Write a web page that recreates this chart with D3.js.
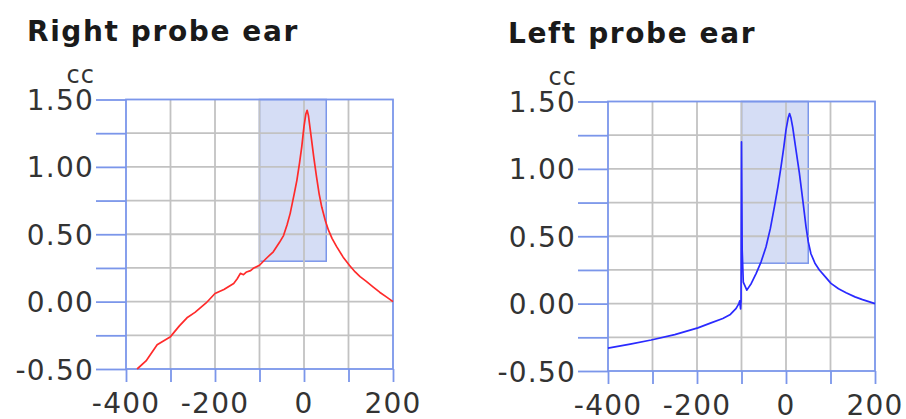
<!DOCTYPE html>
<html>
<head>
<meta charset="utf-8">
<script src="https://cdn.jsdelivr.net/npm/d3@7"></script>
<style>
  body { margin: 0; background: #fff; }
  svg { display: block; font-family: "DejaVu Sans", Verdana, sans-serif; }
</style>
</head>
<body>
<script>
// tympanogram readings, pressure (daPa) vs compliance (cc)
const xTicks = [-400, -300, -200, -100, 0, 100, 200];
const xLabels = [-400, -200, 0, 200];
const yTicks = [-0.5, -0.25, 0, 0.25, 0.5, 0.75, 1.0, 1.25, 1.5];
const yLabels = [-0.5, 0, 0.5, 1.0, 1.5];
const normalBox = { x0: -100, x1: 50, y0: 0.3, y1: 1.5 };

const rightEar = [
  [-375, -0.5], [-355, -0.44], [-330, -0.32], [-315, -0.29], [-300, -0.26],
  [-280, -0.18], [-263, -0.12], [-245, -0.08], [-220, -0.01], [-200, 0.06],
  [-180, 0.09], [-158, 0.135], [-150, 0.17], [-143, 0.21], [-136, 0.2],
  [-129, 0.22], [-120, 0.23], [-114, 0.247], [-100, 0.27], [-85, 0.32],
  [-69, 0.37], [-55, 0.44], [-46, 0.49], [-38, 0.57], [-31, 0.655],
  [-22, 0.8], [-16, 0.9], [-10, 1.03], [-5, 1.15], [0, 1.3], [4, 1.39],
  [7, 1.42], [10, 1.38], [17, 1.2], [22, 1.07], [28, 0.93], [34, 0.8],
  [40, 0.7], [48, 0.6], [55, 0.53], [63, 0.47], [73, 0.41], [88, 0.33],
  [102, 0.27], [115, 0.22], [126, 0.185], [140, 0.15], [155, 0.11],
  [170, 0.07], [185, 0.035], [200, 0.0]
];

const leftEar = [
  [-400, -0.33], [-350, -0.3], [-303, -0.27], [-250, -0.23], [-198, -0.18],
  [-170, -0.145], [-142, -0.11], [-125, -0.08], [-112, -0.035], [-106, 0.0],
  [-104, 0.02], [-102, -0.04], [-101, 0.02], [-100, 1.2], [-98.5, 0.4],
  [-96, 0.16], [-88, 0.1], [-78, 0.15], [-67, 0.225], [-56, 0.31],
  [-45, 0.42], [-35, 0.56], [-26, 0.72], [-18, 0.87], [-11, 1.02],
  [-5, 1.16], [0, 1.29], [5, 1.38], [8, 1.41], [11, 1.38], [15, 1.31],
  [22, 1.15], [30, 0.97], [38, 0.76], [45, 0.57], [50, 0.46], [56, 0.37],
  [65, 0.3], [75, 0.25], [88, 0.2], [101, 0.15], [118, 0.11], [135, 0.08],
  [155, 0.05], [172, 0.03], [200, 0.0]
];

const width = 906, height = 419;
const plotW = 267, plotH = 269.5;

const svg = d3.select('body').append('svg')
  .attr('width', width)
  .attr('height', height);

// plain hyphen for negatives, like the original
const fmtY = (d) => d3.format('.2f')(d).replace('\u2212', '-');
const fmtX = (d) => String(d);

const drawPanel = (title, data, color, left, top, titleX) => {
  const x = d3.scaleLinear().domain([-400, 200]).range([0, plotW]);
  const y = d3.scaleLinear().domain([-0.5, 1.5]).range([plotH, 0]);

  const g = svg.append('g').attr('transform', `translate(${left},${top})`);

  svg.append('text')
    .attr('x', titleX)
    .attr('y', top - 59)
    .attr('font-size', 28)
    .attr('font-weight', 'bold')
    .attr('letter-spacing', 1.6)
    .attr('fill', '#1a1a1a')
    .text(title);

  // normal range box
  g.append('rect')
    .attr('x', x(normalBox.x0))
    .attr('y', y(normalBox.y1))
    .attr('width', x(normalBox.x1) - x(normalBox.x0))
    .attr('height', y(normalBox.y0) - y(normalBox.y1))
    .attr('fill', '#d5ddf5')
    .attr('stroke', '#7b96ea')
    .attr('stroke-width', 1.5);

  // gray grid
  g.selectAll('.hgrid')
    .data(yTicks.slice(1, -1))
    .enter().append('line')
    .attr('x1', 0).attr('x2', plotW)
    .attr('y1', (d) => y(d)).attr('y2', (d) => y(d))
    .attr('stroke', '#c2c2c2')
    .attr('stroke-width', 1.8);

  g.selectAll('.vgrid')
    .data(xTicks.slice(1, -1))
    .enter().append('line')
    .attr('y1', 0).attr('y2', plotH)
    .attr('x1', (d) => x(d)).attr('x2', (d) => x(d))
    .attr('stroke', '#c2c2c2')
    .attr('stroke-width', 1.8);

  // blue axis ticks
  const yAxis = d3.axisLeft(y).tickValues(yTicks).tickSize(30).tickFormat('');
  const xAxis = d3.axisBottom(x).tickValues(xTicks).tickSize(13).tickFormat('');

  g.append('g').call(yAxis)
    .call((a) => a.select('.domain').remove())
    .selectAll('line').attr('stroke', '#7b96ea').attr('stroke-width', 1.8);
  g.append('g').attr('transform', `translate(0,${plotH})`).call(xAxis)
    .call((a) => a.select('.domain').remove())
    .selectAll('line').attr('stroke', '#7b96ea').attr('stroke-width', 1.8);

  // plot border
  g.append('rect')
    .attr('width', plotW).attr('height', plotH)
    .attr('fill', 'none')
    .attr('stroke', '#7b96ea')
    .attr('stroke-width', 1.8);

  g.selectAll('.ylab')
    .data(yLabels)
    .enter().append('text')
    .attr('x', -32)
    .attr('y', (d) => y(d) + 10.5)
    .attr('text-anchor', 'end')
    .attr('font-size', 28)
    .attr('letter-spacing', 1.2)
    .attr('fill', '#333')
    .text(fmtY);

  g.selectAll('.xlab')
    .data(xLabels)
    .enter().append('text')
    .attr('x', (d) => x(d))
    .attr('y', plotH + 44)
    .attr('text-anchor', 'middle')
    .attr('font-size', 28)
    .attr('letter-spacing', 1.2)
    .attr('fill', '#333')
    .text(fmtX);

  g.append('text')
    .attr('x', -31)
    .attr('y', -17)
    .attr('text-anchor', 'end')
    .attr('font-size', 24)
    .attr('letter-spacing', 1)
    .attr('fill', '#333')
    .text('cc');

  const line = d3.line()
    .x((d) => x(d[0]))
    .y((d) => y(d[1]));

  g.append('path')
    .datum(data)
    .attr('d', line)
    .attr('fill', 'none')
    .attr('stroke', color)
    .attr('stroke-width', 1.7)
    .attr('stroke-linejoin', 'round');
};

drawPanel('Right probe ear', rightEar, '#ff2a2a', 126, 99.5, 27);
drawPanel('Left probe ear', leftEar, '#2a2aff', 608, 101.5, 508);
</script>
</body>
</html>
